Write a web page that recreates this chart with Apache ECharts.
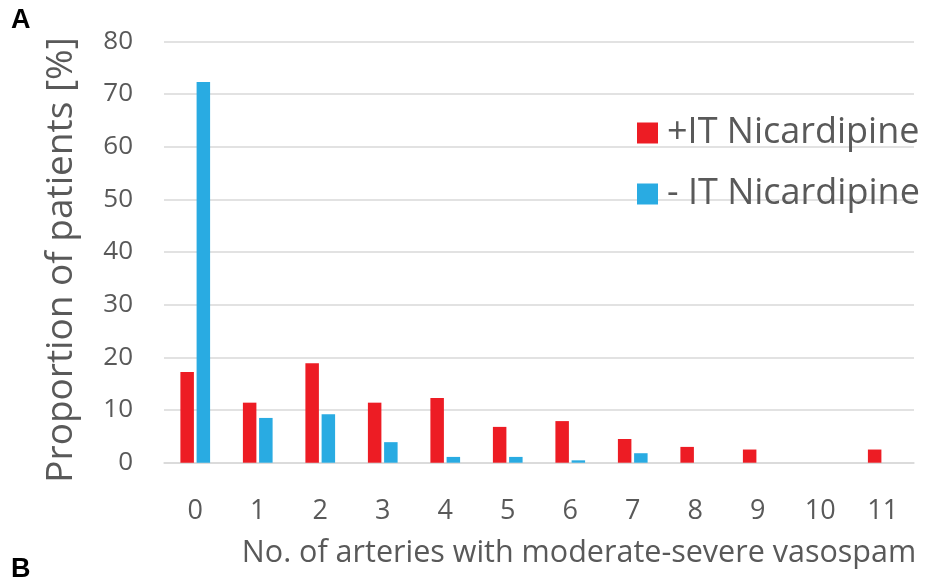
<!DOCTYPE html>
<html>
<head>
<meta charset="utf-8">
<script src="https://cdn.jsdelivr.net/npm/echarts@6/dist/echarts.min.js"></script>
<style>html,body{margin:0;padding:0;background:#fff;}#c{width:930px;height:578px;}</style>
</head>
<body>
<div id="c"></div>
<script>
const categories = ['0','1','2','3','4','5','6','7','8','9','10','11'];
const withIT = [17.2, 11.4, 18.9, 11.4, 12.3, 6.8, 7.9, 4.5, 3.0, 2.5, 0, 2.5];
const withoutIT = [72.3, 8.5, 9.2, 3.9, 1.1, 1.1, 0.45, 1.8, 0, 0, 0, 0];
const seriesNames = ['+IT Nicardipine', '- IT Nicardipine'];
const yTicks = { min: 0, max: 80, interval: 10 };

const FONT = '"Open Sans"';
const chart = echarts.init(document.getElementById('c'), null, { renderer: 'canvas' });
chart.setOption({
  animation: false,
  backgroundColor: '#fff',
  grid: { left: 164, right: 16, top: 41.4, bottom: 115.3, containLabel: false },
  legend: {
    orient: 'vertical', left: 632, top: 110,
    itemWidth: 21, itemHeight: 21, itemGap: 25,
    icon: 'rect',
    textStyle: { fontFamily: FONT, fontSize: 36, color: '#595959', padding: [0, 0, 0, 4] },
    data: seriesNames
  },
  xAxis: {
    type: 'category', data: categories,
    axisLine: { lineStyle: { color: '#d9d9d9', width: 1.5 } },
    axisTick: { show: false },
    axisLabel: { fontFamily: FONT, fontSize: 27, color: '#595959', margin: 35 }
  },
  yAxis: {
    type: 'value', min: yTicks.min, max: yTicks.max, interval: yTicks.interval,
    axisLine: { show: false }, axisTick: { show: false },
    splitLine: { lineStyle: { color: '#d9d9d9', width: 1.5 } },
    axisLabel: { fontFamily: FONT, fontSize: 26, color: '#595959', margin: 31 }
  },
  graphic: [
    { type: 'text', left: 11, top: 7, style: { text: 'A', font: 'bold 27px "Liberation Sans"', fill: '#000' } },
    { type: 'text', left: 11, top: 556, style: { text: 'B', font: 'bold 27px "Liberation Sans"', fill: '#000' } },
    { type: 'text', x: 61, y: 260, rotation: Math.PI / 2,
      style: { text: 'Proportion of patients [%]', font: '37px ' + FONT, fill: '#595959', align: 'center', verticalAlign: 'middle' } },
    { type: 'text', x: 579, y: 553,
      style: { text: 'No. of arteries with moderate-severe vasospam', font: '30.5px ' + FONT, fill: '#595959', align: 'center', verticalAlign: 'middle' } }
  ],
  series: [
    { name: seriesNames[0], type: 'bar', data: withIT, barWidth: 13.5, barGap: '20%',
      itemStyle: { color: '#ED1C24' } },
    { name: seriesNames[1], type: 'bar', data: withoutIT, barWidth: 13.5,
      itemStyle: { color: '#29ABE2' } }
  ]
});
</script>
</body>
</html>
